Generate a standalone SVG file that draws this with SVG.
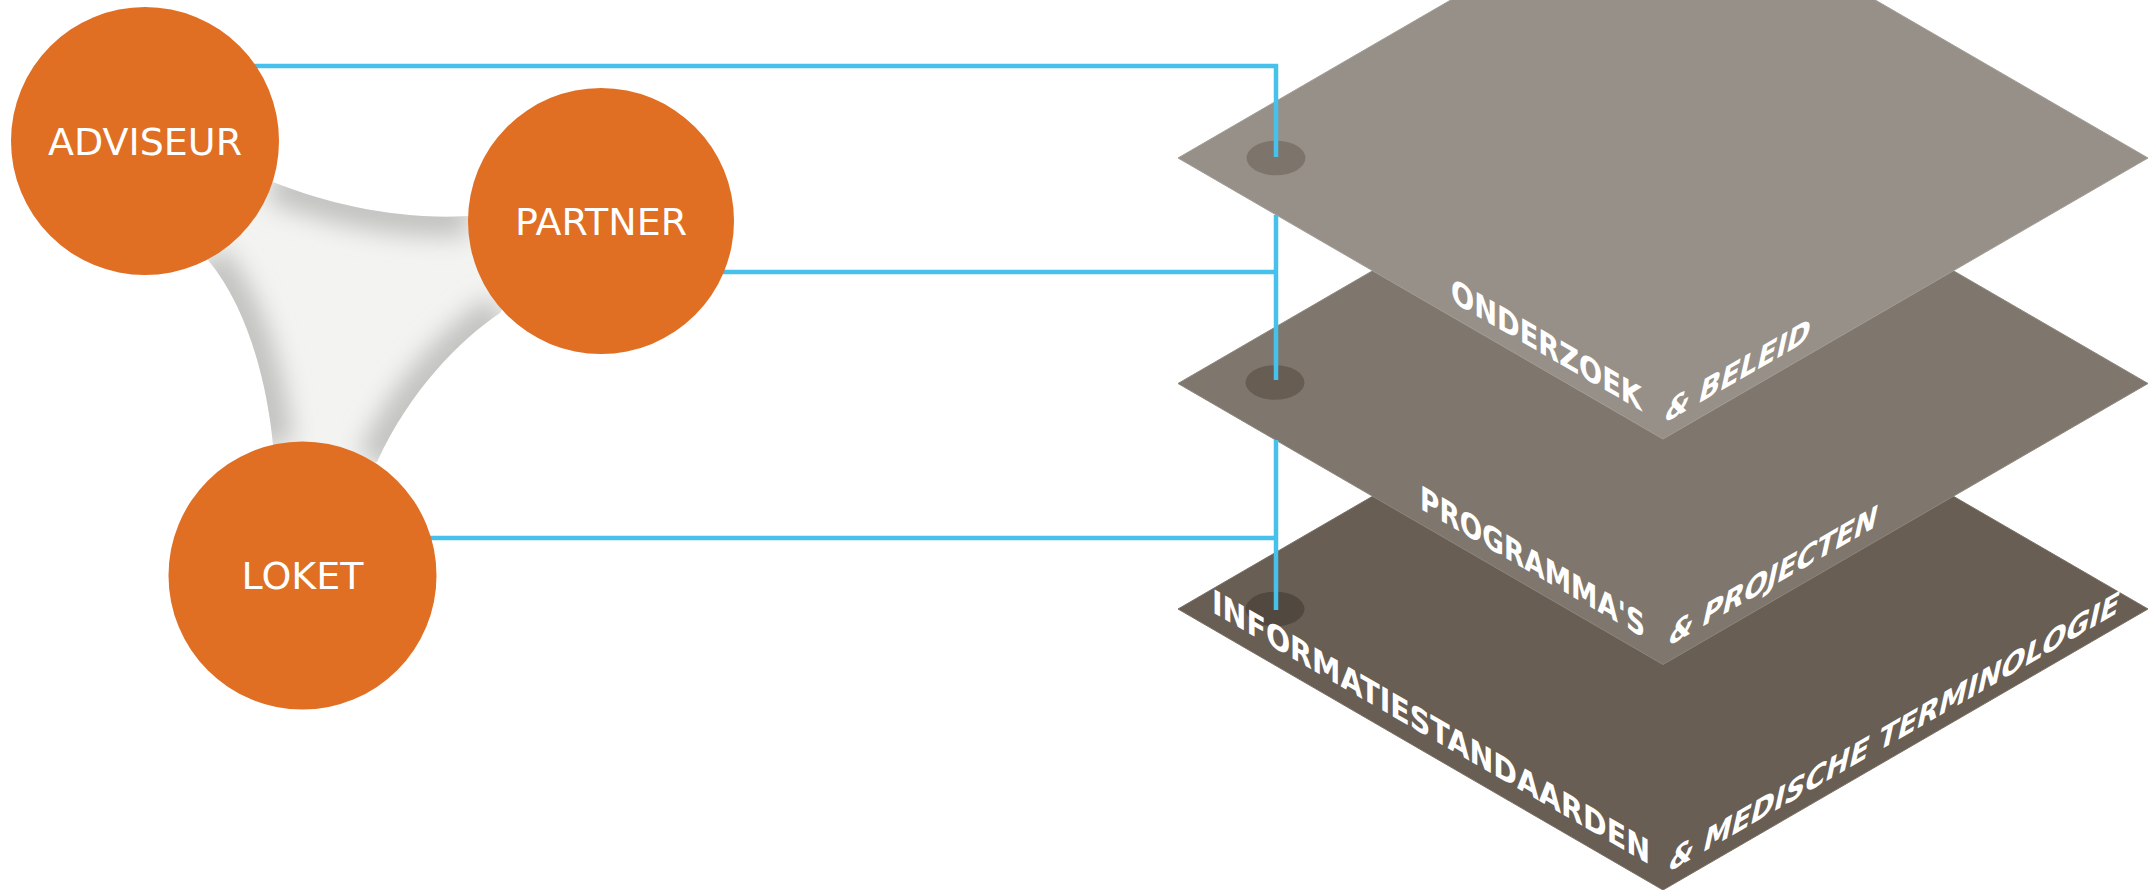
<svg xmlns="http://www.w3.org/2000/svg" width="2151" height="890" viewBox="0 0 2151 890">
<style>
.lbl{font-family:"DejaVu Sans","Verdana",sans-serif;font-size:38px;fill:#ffffff;text-anchor:middle}
.ptxt{font-family:"DejaVu Sans","Verdana",sans-serif;font-weight:bold;font-size:33px;fill:#ffffff}
.circ{fill:#e06e23}
.conn{fill:none;stroke:#47c1eb;stroke-width:4.5;stroke-linejoin:miter;stroke-linecap:butt}
</style>
<defs>
<clipPath id="blobClip"><path d="M273,182 C330,205 400,220 468,216 L540,250 L500,313 C460,340 410,390 377,462 L300,480 L273,445 C268,390 250,310 208,260 L190,200 Z"/></clipPath>
<filter id="soft" x="-30%" y="-30%" width="160%" height="160%"><feGaussianBlur stdDeviation="12"/></filter>
</defs>

<g id="layer-informatiestandaarden">
<polygon points="1178,609 1663,328 2148,609 1663,890" fill="#685e53" stroke="#7a7066" stroke-width="1"/>
<ellipse cx="1275" cy="609" rx="29.5" ry="17.3" fill="#51483f"/>
<text class="ptxt" transform="matrix(1 0.5774 0 1 1212 612)" textLength="438" lengthAdjust="spacingAndGlyphs">INFORMATIESTANDAARDEN</text>
<text class="ptxt" transform="matrix(1 -0.5774 -0.22 1 1667 873)" textLength="450" lengthAdjust="spacingAndGlyphs">&amp; MEDISCHE TERMINOLOGIE</text>
</g>

<g id="layer-programmas">
<polygon points="1178,383.5 1663,102.5 2148,383.5 1663,664.5" fill="#7f776d" stroke="#8e877e" stroke-width="1"/>
<ellipse cx="1275" cy="382.5" rx="29.5" ry="17.3" fill="#675d53"/>
<text class="ptxt" transform="matrix(1 0.5774 0 1 1420 508.5)" textLength="225" lengthAdjust="spacingAndGlyphs">PROGRAMMA'S</text>
<text class="ptxt" transform="matrix(1 -0.5774 -0.22 1 1667 647)" textLength="208" lengthAdjust="spacingAndGlyphs">&amp; PROJECTEN</text>
</g>

<g id="layer-onderzoek">
<polygon points="1178,158 1663,-123 2148,158 1663,439" fill="#969089" stroke="#a39e97" stroke-width="1"/>
<ellipse cx="1276" cy="158" rx="29.5" ry="17.3" fill="#7d756c"/>
<text class="ptxt" transform="matrix(1 0.5774 0 1 1451 301)" textLength="191" lengthAdjust="spacingAndGlyphs">ONDERZOEK</text>
<text class="ptxt" transform="matrix(1 -0.5774 -0.22 1 1663 424)" textLength="145" lengthAdjust="spacingAndGlyphs">&amp; BELEID</text>
</g>

<g id="blob">
<g clip-path="url(#blobClip)">
<rect x="150" y="150" width="420" height="350" fill="#f3f3f1"/>
<path d="M273,182 C330,205 400,220 468,216 M273,445 C268,390 250,310 208,260 M500,313 C460,340 410,390 377,462" fill="none" stroke="#c2c2c0" stroke-width="40" filter="url(#soft)"/>
</g>
</g>

<g id="connectors">
<path class="conn" d="M230,66 H1276 V157"/>
<path class="conn" d="M680,272 H1276"/>
<path class="conn" d="M1276,215 V380"/>
<path class="conn" d="M400,538 H1276"/>
<path class="conn" d="M1276,440 V610"/>
</g>

<g id="node-adviseur">
<circle class="circ" cx="145" cy="141" r="134"/>
<text class="lbl" x="145" y="154.5">ADVISEUR</text>
</g>
<g id="node-partner">
<circle class="circ" cx="601" cy="221" r="133"/>
<text class="lbl" x="601" y="234.5">PARTNER</text>
</g>
<g id="node-loket">
<circle class="circ" cx="302.5" cy="575.5" r="134"/>
<text class="lbl" x="302.5" y="589">LOKET</text>
</g>
</svg>
